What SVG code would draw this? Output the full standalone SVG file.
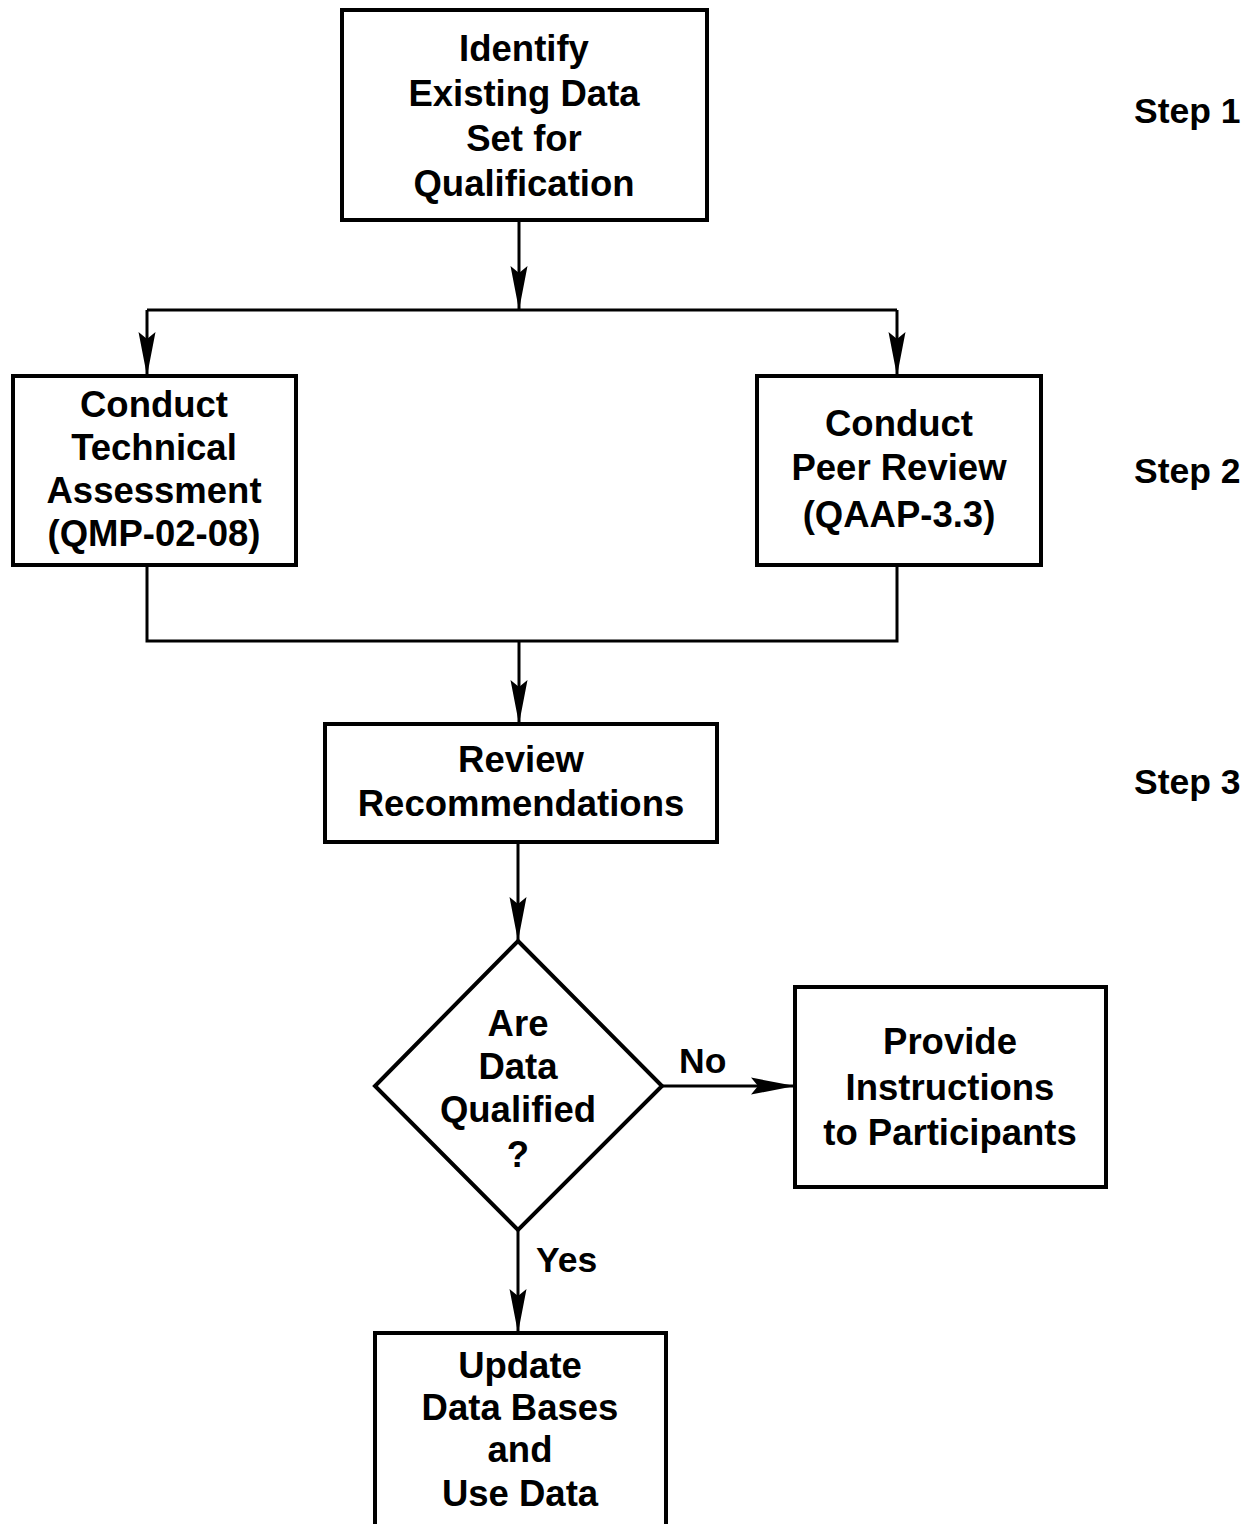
<svg xmlns="http://www.w3.org/2000/svg" width="1255" height="1524" viewBox="0 0 1255 1524">
<style>
.box{fill:#fff;stroke:#000;stroke-width:4}
.t{font-family:"Liberation Sans",Arial,sans-serif;font-weight:bold;font-size:36.5px;fill:#000;text-anchor:middle}
.s{font-family:"Liberation Sans",Arial,sans-serif;font-weight:bold;font-size:35.5px;fill:#000}
.c{fill:none;stroke:#000;stroke-width:3}
</style>
<defs>
<marker id="ah" viewBox="-46 -10 48 20" refX="0" refY="0" markerWidth="48" markerHeight="20" markerUnits="userSpaceOnUse" orient="auto">
<path d="M0,0 L-44,-8.5 L-37,0 L-44,8.5 Z" fill="#000"/>
</marker>
</defs>
<rect width="1255" height="1524" fill="#fff"/>
<g id="connectors">
<path class="c" d="M519,220 V310" marker-end="url(#ah)"/>
<path class="c" d="M147,310 H897"/>
<path class="c" d="M147,310 V376" marker-end="url(#ah)"/>
<path class="c" d="M897,310 V376" marker-end="url(#ah)"/>
<path class="c" d="M147,565 V641 H897 V565"/>
<path class="c" d="M519,641 V724" marker-end="url(#ah)"/>
<path class="c" d="M518,842 V941" marker-end="url(#ah)"/>
<path class="c" d="M662,1086 H795" marker-end="url(#ah)"/>
<path class="c" d="M518,1230 V1333" marker-end="url(#ah)"/>
<text class="s" x="679" y="1073">No</text>
<text class="s" x="536" y="1272">Yes</text>
</g>
<g id="node1">
<rect class="box" x="342" y="10" width="365" height="210"/>
<text class="t" x="524" y="61">Identify</text>
<text class="t" x="524" y="106">Existing Data</text>
<text class="t" x="524" y="151">Set for</text>
<text class="t" x="524" y="196">Qualification</text>
</g>
<g id="node2">
<rect class="box" x="13" y="376" width="283" height="189"/>
<text class="t" x="154" y="417">Conduct</text>
<text class="t" x="154" y="460">Technical</text>
<text class="t" x="154" y="503">Assessment</text>
<text class="t" x="154" y="546">(QMP-02-08)</text>
</g>
<g id="node3">
<rect class="box" x="757" y="376" width="284" height="189"/>
<text class="t" x="899" y="436">Conduct</text>
<text class="t" x="899" y="480">Peer Review</text>
<text class="t" x="899" y="527">(QAAP-3.3)</text>
</g>
<g id="node4">
<rect class="box" x="325" y="724" width="392" height="118"/>
<text class="t" x="521" y="772">Review</text>
<text class="t" x="521" y="816">Recommendations</text>
</g>
<g id="node5">
<polygon class="box" points="518,941 662,1086 518,1230 375,1086"/>
<text class="t" x="518" y="1036">Are</text>
<text class="t" x="518" y="1079">Data</text>
<text class="t" x="518" y="1122">Qualified</text>
<text class="t" x="518" y="1167">?</text>
</g>
<g id="node6">
<rect class="box" x="795" y="987" width="311" height="200"/>
<text class="t" x="950" y="1054">Provide</text>
<text class="t" x="950" y="1100">Instructions</text>
<text class="t" x="950" y="1145">to Participants</text>
</g>
<g id="node7">
<rect class="box" x="375" y="1333" width="291" height="220"/>
<text class="t" x="520" y="1378">Update</text>
<text class="t" x="520" y="1420">Data Bases</text>
<text class="t" x="520" y="1462">and</text>
<text class="t" x="520" y="1506">Use Data</text>
</g>
<g id="steps">
<text class="s" x="1134" y="123">Step 1</text>
<text class="s" x="1134" y="483">Step 2</text>
<text class="s" x="1134" y="794">Step 3</text>
</g>
</svg>
